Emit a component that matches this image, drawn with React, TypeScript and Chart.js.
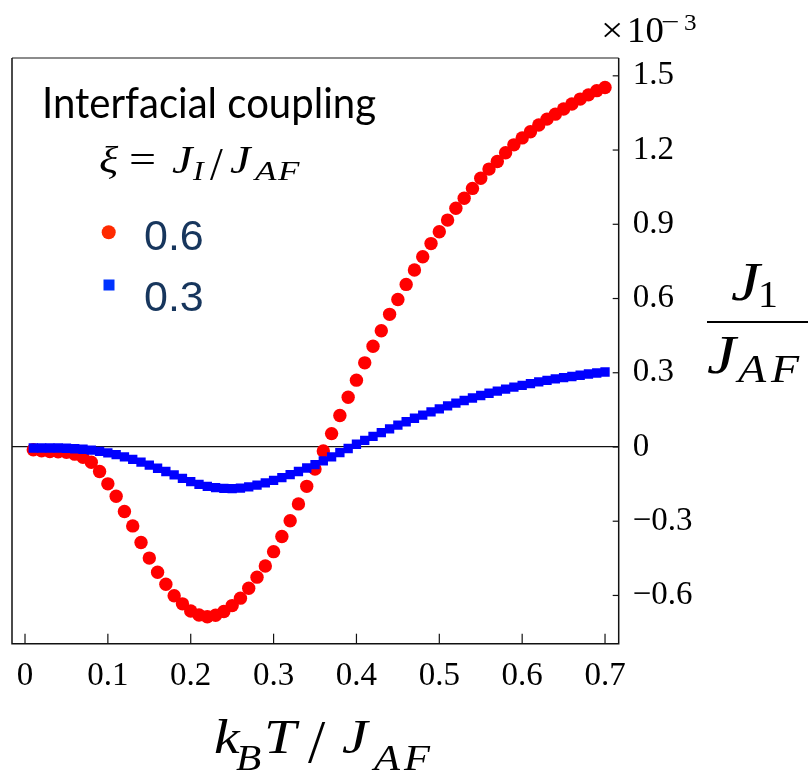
import React, { useEffect, useRef } from 'react';
import { Chart, registerables } from 'chart.js';

Chart.register(...registerables);

// k_B T / J_AF
const temperature = [
  0.01, 0.02, 0.03, 0.04, 0.05, 0.06, 0.07, 0.08, 0.09, 0.10,
  0.11, 0.12, 0.13, 0.14, 0.15, 0.16, 0.17, 0.18, 0.19, 0.20,
  0.21, 0.22, 0.23, 0.24, 0.25, 0.26, 0.27, 0.28, 0.29, 0.30,
  0.31, 0.32, 0.33, 0.34, 0.35, 0.36, 0.37, 0.38, 0.39, 0.40,
  0.41, 0.42, 0.43, 0.44, 0.45, 0.46, 0.47, 0.48, 0.49, 0.50,
  0.51, 0.52, 0.53, 0.54, 0.55, 0.56, 0.57, 0.58, 0.59, 0.60,
  0.61, 0.62, 0.63, 0.64, 0.65, 0.66, 0.67, 0.68, 0.69, 0.70,
];

// J1/J_AF (x 1e-3), xi = 0.6
const xi06 = [
  -0.011, -0.015, -0.018, -0.019, -0.021, -0.029, -0.042, -0.062, -0.099, -0.149,
  -0.199, -0.261, -0.319, -0.386, -0.449, -0.506, -0.555, -0.601, -0.634, -0.663,
  -0.679, -0.686, -0.680, -0.665, -0.641, -0.611, -0.571, -0.526, -0.481, -0.423,
  -0.362, -0.298, -0.230, -0.159, -0.089, -0.016, 0.054, 0.127, 0.201, 0.270,
  0.340, 0.407, 0.470, 0.536, 0.596, 0.657, 0.715, 0.769, 0.822, 0.870,
  0.917, 0.965, 1.005, 1.045, 1.086, 1.123, 1.154, 1.189, 1.221, 1.249,
  1.274, 1.301, 1.325, 1.345, 1.366, 1.386, 1.406, 1.423, 1.440, 1.453,
];

// J1/J_AF (x 1e-3), xi = 0.3
const xi03 = [
  -0.004, -0.004, -0.004, -0.004, -0.005, -0.007, -0.009, -0.013, -0.018, -0.024,
  -0.031, -0.040, -0.050, -0.061, -0.073, -0.086, -0.099, -0.113, -0.127, -0.140,
  -0.151, -0.159, -0.164, -0.167, -0.168, -0.166, -0.161, -0.154, -0.145, -0.135,
  -0.124, -0.112, -0.099, -0.085, -0.071, -0.056, -0.040, -0.023, -0.006, 0.011,
  0.027, 0.043, 0.058, 0.073, 0.088, 0.102, 0.116, 0.129, 0.142, 0.154,
  0.166, 0.177, 0.188, 0.198, 0.208, 0.217, 0.226, 0.234, 0.242, 0.249,
  0.256, 0.263, 0.269, 0.275, 0.280, 0.285, 0.290, 0.295, 0.299, 0.303,
];

const seriesNames = ['0.6', '0.3'];

const xTickValues = [0, 0.1, 0.2, 0.3, 0.4, 0.5, 0.6, 0.7];
const xTickLabels = ['0', '0.1', '0.2', '0.3', '0.4', '0.5', '0.6', '0.7'];
const yTickValues = [-0.6, -0.3, 0, 0.3, 0.6, 0.9, 1.2, 1.5];
const yTickLabels = ['\u22120.6', '\u22120.3', '0', '0.3', '0.6', '0.9', '1.2', '1.5'];

const SERIF = '"Liberation Serif", "DejaVu Serif", serif';

// [text, x, baseline, size, italic, horizontal stretch]
type Glyph = [string, number, number, number, boolean, number?];

function drawGlyphs(ctx: CanvasRenderingContext2D, glyphs: Glyph[]) {
  for (const [t, x, y, size, italic, sx] of glyphs) {
    ctx.save();
    ctx.font = `${italic ? 'italic ' : ''}${size}px ${SERIF}`;
    ctx.translate(x, y);
    ctx.scale(sx ?? 1.18, 1);
    ctx.fillText(t, 0, 0);
    ctx.restore();
  }
}

const decorPlugin = {
  id: 'decor',
  afterDraw(chart: any) {
    const ctx: CanvasRenderingContext2D = chart.ctx;
    const { left, right, top, bottom } = chart.chartArea;
    const xs = chart.scales.x;
    const ys = chart.scales.y;
    ctx.save();
    // frame
    ctx.lineWidth = 1.5;
    ctx.strokeStyle = '#666';
    ctx.beginPath();
    ctx.moveTo(left, top);
    ctx.lineTo(right, top);
    ctx.stroke();
    ctx.strokeStyle = '#111';
    ctx.beginPath();
    ctx.moveTo(left, top);
    ctx.lineTo(left, bottom);
    ctx.lineTo(right, bottom);
    ctx.lineTo(right, top);
    ctx.stroke();
    // inward ticks
    ctx.lineWidth = 1.2;
    ctx.strokeStyle = '#111';
    for (const t of xs.ticks) {
      const px = xs.getPixelForValue(t.value);
      ctx.beginPath();
      ctx.moveTo(px, bottom);
      ctx.lineTo(px, bottom - 10);
      ctx.stroke();
    }
    for (const t of ys.ticks) {
      const py = ys.getPixelForValue(t.value);
      ctx.beginPath();
      ctx.moveTo(right, py);
      ctx.lineTo(right - 6, py);
      ctx.stroke();
    }

    ctx.fillStyle = '#000';
    ctx.textAlign = 'left';
    ctx.textBaseline = 'alphabetic';

    // x10^-3 multiplier
    drawGlyphs(ctx, [
      ['\u00d7', 601, 42, 36, false, 1.1],
      ['10', 627, 42, 35, false, 1.05],
      ['\u2212', 661, 30, 25, false, 1.3],
      ['3', 684, 30, 24, false, 1.05],
    ]);

    // y axis label: J1 / J_AF
    drawGlyphs(ctx, [
      ['J', 731, 300, 55, true],
      ['1', 758, 307, 38, false, 1.05],
      ['J', 707, 373, 55, true],
      ['A', 738, 382, 39, true],
      ['F', 771, 382, 39, true],
    ]);
    ctx.fillRect(707, 321, 101, 2);

    // x axis label k_B T / J_AF
    drawGlyphs(ctx, [
      ['k', 214, 753, 49, true],
      ['B', 236, 770, 35, true],
      ['T', 264, 753, 49, true],
      ['/', 308, 762, 62, false, 1.0],
      ['J', 342, 753, 49, true],
      ['A', 374, 770, 36, true],
      ['F', 404, 770, 36, true],
    ]);

    // legend title
    ctx.font = `42px Lato, "Open Sans", sans-serif`;
    ctx.fillText('Interfacial coupling', 42, 118, 334);
    drawGlyphs(ctx, [
      ['\u03be', 99, 173, 38, true],
      ['=', 129, 173, 40, false, 1.2],
      ['J', 172, 173, 39, true],
      ['I', 193, 180, 27, true],
      ['/', 210, 180, 46, false, 1.0],
      ['J', 230, 173, 39, true],
      ['A', 255, 180, 27, true, 1.3],
      ['F', 278, 180, 27, true, 1.3],
    ]);

    // legend items
    ctx.fillStyle = '#ff2a00';
    ctx.beginPath();
    ctx.arc(108.7, 232.3, 7, 0, Math.PI * 2);
    ctx.fill();
    ctx.fillStyle = '#0033ff';
    ctx.fillRect(103.5, 279.5, 11, 11);
    ctx.fillStyle = '#17365d';
    ctx.font = `43px "Liberation Sans", Arial, sans-serif`;
    ctx.fillText(seriesNames[0], 144, 250);
    ctx.fillText(seriesNames[1], 144, 311);

    ctx.restore();
  },
};

export default function App() {
  const ref = useRef<HTMLCanvasElement | null>(null);

  useEffect(() => {
    if (!ref.current) return;
    const chart = new Chart(ref.current, {
      type: 'scatter',
      data: {
        datasets: [
          {
            label: seriesNames[0],
            data: temperature.map((x, i) => ({ x, y: xi06[i] })),
            backgroundColor: '#ff0000',
            borderWidth: 0,
            pointRadius: 6.7,
            pointStyle: 'circle',
            order: 1,
          },
          {
            label: seriesNames[1],
            data: temperature.map((x, i) => ({ x, y: xi03[i] })),
            backgroundColor: '#0000ff',
            borderWidth: 0,
            pointRadius: 6.6,
            pointStyle: 'rect',
            order: 0,
          },
        ],
      },
      options: {
        responsive: false,
        devicePixelRatio: 1,
        animation: false,
        layout: { padding: { left: 12, top: 58, right: 0, bottom: 0 } },
        plugins: {
          legend: { display: false },
          tooltip: { enabled: false },
        },
        scales: {
          x: {
            type: 'linear',
            position: 'bottom',
            min: -0.0157,
            max: 0.7165,
            afterBuildTicks: (scale: any) => {
              scale.ticks = xTickValues.map((v) => ({ value: v }));
            },
            afterFit: (scale: any) => {
              scale.height = 130.3;
            },
            ticks: {
              autoSkip: false,
              maxRotation: 0,
              padding: 13,
              color: '#000',
              font: { family: SERIF, size: 33 },
              callback: (_v: any, i: number) => xTickLabels[i],
            },
            grid: { display: false, drawTicks: false },
            border: { display: false },
          },
          y: {
            type: 'linear',
            position: 'right',
            min: -0.795,
            max: 1.572,
            afterBuildTicks: (scale: any) => {
              scale.ticks = yTickValues.map((v) => ({ value: v }));
            },
            afterFit: (scale: any) => {
              scale.width = 189.3;
            },
            ticks: {
              autoSkip: false,
              padding: 14,
              color: '#000',
              font: { family: SERIF, size: 33 },
              callback: (_v: any, i: number) => yTickLabels[i],
            },
            grid: {
              display: true,
              drawTicks: false,
              drawOnChartArea: true,
              lineWidth: 1.3,
              color: (c: any) => (c.tick && c.tick.value === 0 ? '#111' : 'rgba(0,0,0,0)'),
            },
            border: { display: false },
          },
        },
      },
      plugins: [decorPlugin],
    });
    return () => chart.destroy();
  }, []);

  return (
    <div style={{ position: 'absolute', left: 0, top: 0, width: 808, height: 774, background: '#fff' }}>
      <canvas ref={ref} width={808} height={774} style={{ width: 808, height: 774, display: 'block' }} />
    </div>
  );
}
